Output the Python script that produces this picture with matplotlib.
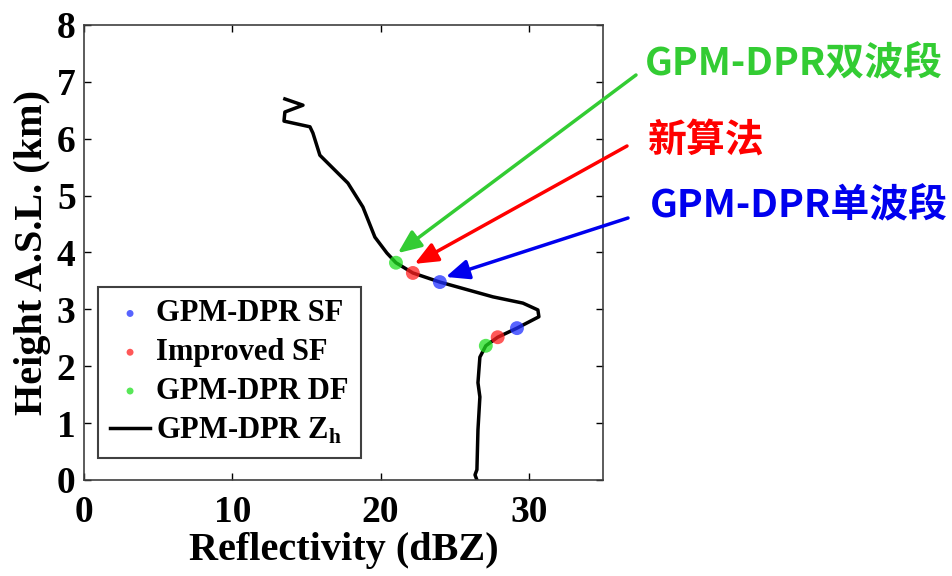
import matplotlib
matplotlib.use("Agg")
import matplotlib.pyplot as plt

# reflectivity profile (dBZ) vs height (km)
zh = [13.55, 14.77, 13.55, 13.49, 15.24, 15.44, 15.91, 17.80, 18.81, 19.62, 20.43,
      21.04, 22.18, 24.0, 27.58, 29.6, 30.61, 30.68, 29.2, 27.9, 27.1, 26.7,
      26.57, 26.7, 26.57, 26.5, 26.37, 26.5]
height = [6.70, 6.59, 6.47, 6.31, 6.21, 6.10, 5.71, 5.22, 4.80, 4.27, 3.99,
          3.82, 3.64, 3.48, 3.22, 3.11, 2.99, 2.87, 2.67, 2.51, 2.36, 2.16,
          1.71, 1.46, 0.88, 0.18, 0.09, 0.0]

# bright-band top/bottom points per method
sf_x, sf_y = [24.0, 29.2], [3.48, 2.67]
imp_x, imp_y = [22.18, 27.9], [3.64, 2.51]
df_x, df_y = [21.04, 27.1], [3.82, 2.36]

labels_cn = ["GPM-DPR双波段", "新算法", "GPM-DPR单波段"]

plt.rcParams['font.family'] = ['Liberation Serif']
plt.rcParams['font.weight'] = 'bold'
plt.rcParams['mathtext.fontset'] = 'custom'
plt.rcParams['mathtext.rm'] = 'Liberation Serif:bold'
plt.rcParams['mathtext.bf'] = 'Liberation Serif:bold'

fig = plt.figure(figsize=(9.53, 5.76), dpi=100)
ax = fig.add_axes([0.0881, 0.1667, 0.5446, 0.7899])

ax.plot(zh, height, color='black', lw=2.5, label=r'GPM-DPR Z$_\mathbf{h}$', zorder=2)
ax.scatter(sf_x, sf_y, s=100, color='#2030ff', alpha=0.75, edgecolors='none', zorder=3, label='GPM-DPR SF')
ax.scatter(imp_x, imp_y, s=100, color='#ff2020', alpha=0.75, edgecolors='none', zorder=3, label='Improved SF')
ax.scatter(df_x, df_y, s=100, color='#20e020', alpha=0.75, edgecolors='none', zorder=3, label='GPM-DPR DF')

ax.set_xlim(0, 35)
ax.set_ylim(0, 8)
ax.set_xticks([0, 10, 20, 30])
ax.set_yticks(range(0, 9))
ax.tick_params(direction='in', top=True, right=True, labelsize=27, length=5, width=1)
ax.tick_params(axis='x', pad=11)
ax.tick_params(axis='y', pad=6)
for s in ax.spines.values():
    s.set_linewidth(1.2)
    s.set_color('#404040')
ax.set_xlabel('Reflectivity (dBZ)', fontsize=29, fontweight='bold', labelpad=1)
ax.set_ylabel('Height A.S.L. (km)', fontsize=29, fontweight='bold', labelpad=4)

h, l = ax.get_legend_handles_labels()
order = [1, 2, 3, 0]
leg = ax.legend([h[i] for i in order], [l[i] for i in order], loc='lower left',
                bbox_to_anchor=(0.027, 0.048), fontsize=22, fancybox=False,
                edgecolor='#404040', framealpha=1, handlelength=1.3,
                handletextpad=0.2, borderpad=0.4, borderaxespad=0,
                labelspacing=0.32, markerscale=0.5)
leg.get_frame().set_linewidth(1.5)

# annotations with arrows
colors = ['#33cc33', '#ff0000', '#0000ee']
tips = [(21.17, 3.99), (22.3, 3.80), (24.4, 3.57)]
tails = [(636, 576 - 75), (627, 576 - 146), (628, 576 - 218)]
text_pos = [(645, 576 - 64), (648, 576 - 141), (650, 576 - 206)]
for lab, c, tip, tail, tp in zip(labels_cn, colors, tips, tails, text_pos):
    ax.annotate('', xy=tip, xycoords='data', xytext=tail, textcoords='figure pixels',
                arrowprops=dict(arrowstyle='-|>,head_length=1.4,head_width=0.6',
                                color=c, lw=2.5, shrinkA=0, shrinkB=0),
                annotation_clip=False)
    fig.text(tp[0] / 953, tp[1] / 576, lab, color=c, fontsize=28, fontweight='bold',
             family=['Noto Sans CJK SC', 'DejaVu Sans'], va='center', ha='left')

fig.savefig('out.png', dpi=100)
